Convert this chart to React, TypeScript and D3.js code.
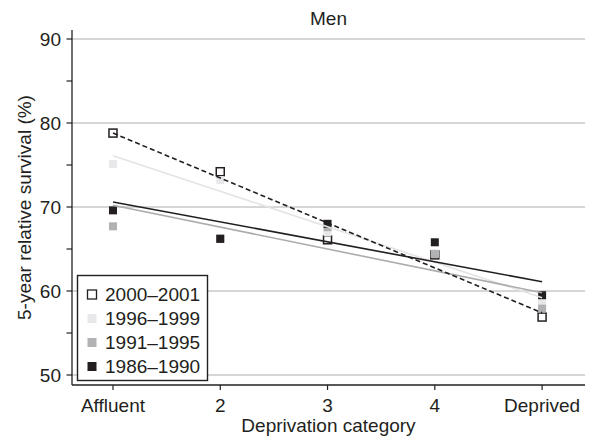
import React from "react";
import * as d3 from "d3";

const categories = ["Affluent", "2", "3", "4", "Deprived"];
const seriesNames = ["2000–2001", "1996–1999", "1991–1995", "1986–1990"];
const values2000 = [78.8, 74.2, 66.1, 64.3, 56.9];
const values1996 = [75.1, 73.2, 67.0, 64.5, 58.7];
const values1991 = [67.7, 66.3, 67.6, 64.4, 57.9];
const values1986 = [69.6, 66.2, 68.0, 65.8, 59.5];
const trendStart = [78.8, 76.1, 70.2, 70.6];
const trendEnd = [57.4, 59.2, 59.8, 61.1];
const yTicks = [50, 60, 70, 80, 90];
const yMinorTicks = [55, 65, 75, 85];

const allValues = [values2000, values1996, values1991, values1986];
const markerFill = ["#ffffff", "#e8e8ea", "#b2b2b4", "#231f20"];
const markerStroke = ["#231f20", "none", "none", "none"];
const lineColor = ["#231f20", "#e4e4e6", "#acacae", "#231f20"];
const lineDash = ["5,3", null, null, null];

const FONT = "'Liberation Sans', Arial, Helvetica, sans-serif";

export default function App() {
  const W = 596, H = 436;
  const x = d3.scaleLinear().domain([0.618, 5.4]).range([72, 585]);
  const y = d3.scaleLinear().domain([50, 90]).range([375, 39]);
  const yTop = 30, yBottom = 385;
  const line = d3.line<[number, number]>().x(d => x(d[0])).y(d => y(d[1]));
  const ms = 8;
  const fs = 19;

  return (
    <svg width={W} height={H} style={{ position: "absolute", left: 0, top: 0 }} fontFamily={FONT}>
      <rect width={W} height={H} fill="#fff" />
      {yTicks.map(t => (
        <line key={"g" + t} x1={72} x2={585} y1={y(t)} y2={y(t)} stroke="#c8c8ca" strokeWidth={1.5} />
      ))}
      <line x1={72} x2={72} y1={yTop} y2={yBottom} stroke="#231f20" strokeWidth={1.3} />
      <line x1={72} x2={585} y1={yBottom} y2={yBottom} stroke="#231f20" strokeWidth={1.3} />
      {yTicks.concat(yMinorTicks).map(t => (
        <line key={"t" + t} x1={66.5} x2={72} y1={y(t)} y2={y(t)} stroke="#231f20" strokeWidth={1.2} />
      ))}
      {yTicks.map(t => (
        <text key={"yl" + t} x={61} y={y(t) + 6.8} textAnchor="end" fontSize={fs} fill="#231f20">{t}</text>
      ))}
      {categories.map((c, i) => (
        <g key={"xc" + c}>
          <line x1={x(i + 1)} x2={x(i + 1)} y1={yBottom} y2={yBottom + 5} stroke="#231f20" strokeWidth={1.2} />
          <text x={x(i + 1)} y={412} textAnchor="middle" fontSize={fs} fill="#231f20">{c}</text>
        </g>
      ))}
      <text x={328.5} y={432} textAnchor="middle" fontSize={fs} fill="#231f20">Deprivation category</text>
      <text transform={`translate(31,${(yTop + yBottom) / 2}) rotate(-90)`} textAnchor="middle" fontSize={fs} fill="#231f20">5-year relative survival (%)</text>
      <text x={328.5} y={25} textAnchor="middle" fontSize={fs} fill="#231f20">Men</text>
      {allValues.map((vals, s) => (
        <g key={"m" + s}>
          {vals.map((v, i) => (
            <rect key={i} x={x(i + 1) - ms / 2} y={y(v) - ms / 2} width={ms} height={ms}
              fill={markerFill[s]} stroke={markerStroke[s]} strokeWidth={1.5} />
          ))}
        </g>
      ))}
      {[1, 2, 3, 0].map(s => (
        <path key={"l" + s} d={line([[1, trendStart[s]], [5, trendEnd[s]]]) || ""} fill="none"
          stroke={lineColor[s]} strokeWidth={1.6} strokeDasharray={lineDash[s] || undefined} />
      ))}
      <rect x={77.5} y={275.5} width={130} height={105} fill="#fff" stroke="#231f20" strokeWidth={1.4} />
      {seriesNames.map((n, s) => (
        <g key={"lg" + s}>
          <rect x={87.5} y={290 + s * 24} width={9} height={9} fill={markerFill[s]} stroke={markerStroke[s]} strokeWidth={1.3} />
          <text x={105} y={301 + s * 24} fontSize={fs} fill="#231f20">{n}</text>
        </g>
      ))}
    </svg>
  );
}
